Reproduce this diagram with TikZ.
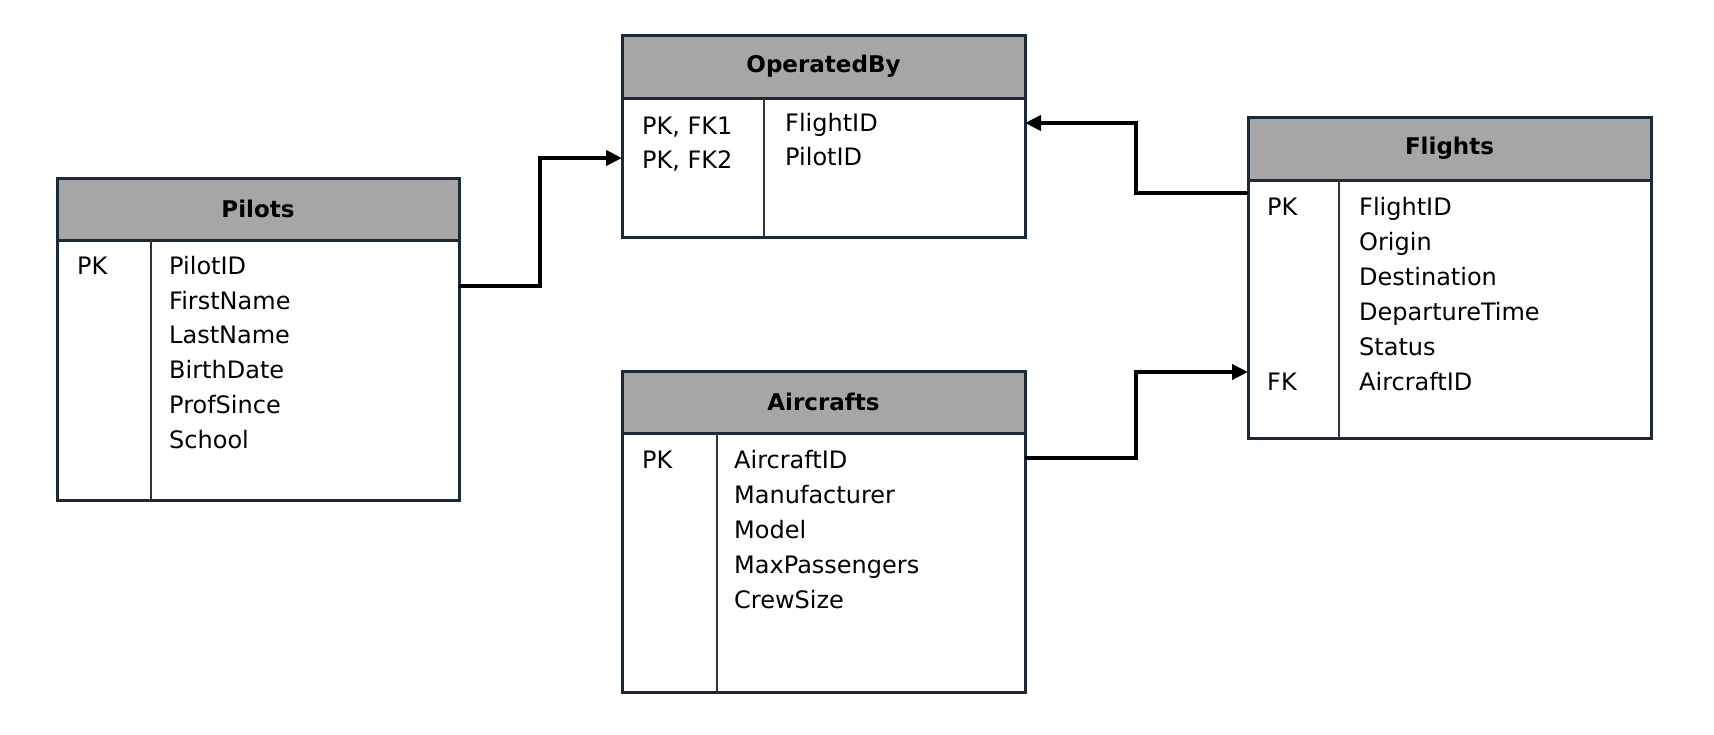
\documentclass[tikz,border=0pt]{standalone}
\usepackage{fontspec}
\setmainfont{DejaVu Sans}
\usetikzlibrary{arrows.meta}
\definecolor{bordercol}{HTML}{1B2A38}
\definecolor{hdrfill}{HTML}{A6A6A6}
\definecolor{divcol}{HTML}{333333}
\tikzset{
  hdr/.style={draw=bordercol, line width=3pt, fill=hdrfill, anchor=north west, outer sep=0pt, inner sep=0pt,
    font=\fontsize{23}{28}\selectfont\bfseries},
  bodybox/.style={draw=bordercol, line width=3pt, fill=white, anchor=north west, outer sep=0pt, inner sep=0pt},
  divider/.style={draw=divcol, line width=2pt},
  fld/.style={anchor=base west, inner sep=0pt, font=\fontsize{24}{28}\selectfont, text=black},
  conn/.style={draw=black, line width=4pt, -{Triangle[length=16pt,width=15pt]}}
}
\begin{document}
\begin{tikzpicture}[x=1pt,y=-1pt]
\useasboundingbox (0,0) rectangle (1714,734);
% Pilots
\node[bodybox, minimum width=402pt, minimum height=260pt] (pilots) at (57,240) {};
\node[hdr, minimum width=402pt, minimum height=62pt] (pilotsH) at (57,178) {Pilots};
\draw[divider] (151,240) -- (151,500);
\node[fld] (pilotsK1) at (77,274.5) {PK};
\foreach \t [count=\i] in {PilotID,FirstName,LastName,BirthDate,ProfSince,School}
  \node[fld] (pilotsF\i) at (169,274.5+34.7*\i-34.7) {\t};
% OperatedBy
\node[bodybox, minimum width=403pt, minimum height=139pt] (ob) at (622,98) {};
\node[hdr, minimum width=403pt, minimum height=63pt] (obH) at (622,35) {OperatedBy};
\draw[divider] (764,98) -- (764,237);
\node[fld] (obK1) at (642,134) {PK, FK1};
\node[fld] (obK2) at (642,168) {PK, FK2};
\node[fld] (obF1) at (785,131.5) {FlightID};
\node[fld] (obF2) at (785,165.5) {PilotID};
% Flights
\node[bodybox, minimum width=403pt, minimum height=258pt] (flights) at (1248,180) {};
\node[hdr, minimum width=403pt, minimum height=63pt] (flightsH) at (1248,117) {Flights};
\draw[divider] (1339,180) -- (1339,438);
\node[fld] (flightsK1) at (1267,215.5) {PK};
\node[fld] (flightsK2) at (1267,390.5) {FK};
\foreach \t [count=\i] in {FlightID,Origin,Destination,DepartureTime,Status,AircraftID}
  \node[fld] (flightsF\i) at (1359,215.5+35*\i-35) {\t};
% Aircrafts
\node[bodybox, minimum width=403pt, minimum height=259pt] (air) at (622,433) {};
\node[hdr, minimum width=403pt, minimum height=62pt] (airH) at (622,371) {Aircrafts};
\draw[divider] (717,433) -- (717,692);
\node[fld] (airK1) at (642,468.5) {PK};
\foreach \t [count=\i] in {AircraftID,Manufacturer,Model,MaxPassengers,CrewSize}
  \node[fld] (airF\i) at (734,468.5+35*\i-35) {\t};
% Connectors
\draw[conn] ([yshift=-46pt]pilots.north east) -- ++(81,0) |- ([yshift=-60pt]ob.north west);
\draw[conn] ([yshift=-13pt]flights.north west) -- ++(-112,0) |- ([yshift=-25pt]ob.north east);
\draw[conn] ([yshift=-25pt]air.north east) -- ++(111,0) |- ([yshift=-192pt]flights.north west);
\end{tikzpicture}
\end{document}
